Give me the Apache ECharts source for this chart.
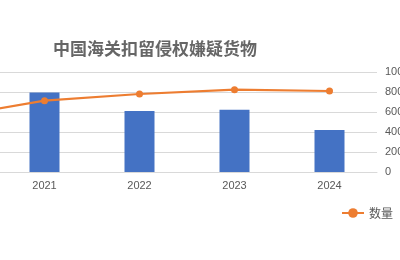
<!DOCTYPE html>
<html>
<head>
<meta charset="utf-8">
<script src="https://cdn.jsdelivr.net/npm/echarts@6/dist/echarts.min.js"></script>
<style>html,body{margin:0;padding:0;background:#fff;overflow:hidden;width:400px;height:260px;position:relative;}#c{position:absolute;left:-98px;top:0;width:498px;height:260px;}</style>
</head>
<body>
<div id="c"></div>
<script>
var titleText = '中国海关扣留侵权嫌疑货物';
var categories = ['2020', '2021', '2022', '2023', '2024'];
var barName = '批次（万）';
var barValues = [null, 795, 610, 623, 420];
var lineName = '数量（万件）';
var lineValues = [550, 713, 780, 823, 810];
var rightTicks = [0, 200, 400, 600, 800, 1000];

var chart = echarts.init(document.getElementById('c'), null, {renderer: 'canvas', width: 498, height: 260});
var txt = '#595959';
chart.setOption({
  animation: false,
  backgroundColor: '#ffffff',
  title: {
    text: titleText, left: 146, top: 35,
    textStyle: {fontFamily: 'Noto Sans CJK SC', fontSize: 17, fontWeight: 'bold', color: '#666666'}
  },
  legend: {
    data: [lineName], left: 434, top: 202, itemWidth: 22, itemHeight: 12, itemGap: 6,
    textStyle: {fontFamily: 'Noto Sans CJK SC', fontSize: 12, color: txt}
  },
  grid: {left: 0, right: 23, top: 72, height: 100, containLabel: false, outerBoundsMode: 'none'},
  xAxis: {
    type: 'category', data: categories,
    axisLine: {lineStyle: {color: '#D9D9D9', width: 1}},
    axisTick: {show: false},
    axisLabel: {color: txt, fontFamily: 'Liberation Sans', fontSize: 11, margin: 8}
  },
  yAxis: [
    {type: 'value', min: 0, max: 1000, interval: 200, position: 'left',
     axisLabel: {show: false}, axisLine: {show: false}, axisTick: {show: false},
     splitLine: {lineStyle: {color: '#D9D9D9', width: 1}}},
    {type: 'value', min: 0, max: 1000, interval: 200, position: 'right',
     axisLabel: {color: txt, fontFamily: 'Liberation Sans', fontSize: 11, margin: 8,
       formatter: function(v){ return rightTicks.indexOf(v) >= 0 ? String(v) : ''; }},
     axisLine: {show: false}, axisTick: {show: false}, splitLine: {show: false}}
  ],
  series: [
    {name: barName, type: 'bar', yAxisIndex: 0, data: barValues, barWidth: 30,
     itemStyle: {color: '#4472C4'}},
    {name: lineName, type: 'line', yAxisIndex: 1, data: lineValues,
     symbol: 'circle', symbolSize: 7, showSymbol: true,
     lineStyle: {color: '#ED7D31', width: 2.25}, itemStyle: {color: '#ED7D31'}}
  ]
});
</script>
</body>
</html>
